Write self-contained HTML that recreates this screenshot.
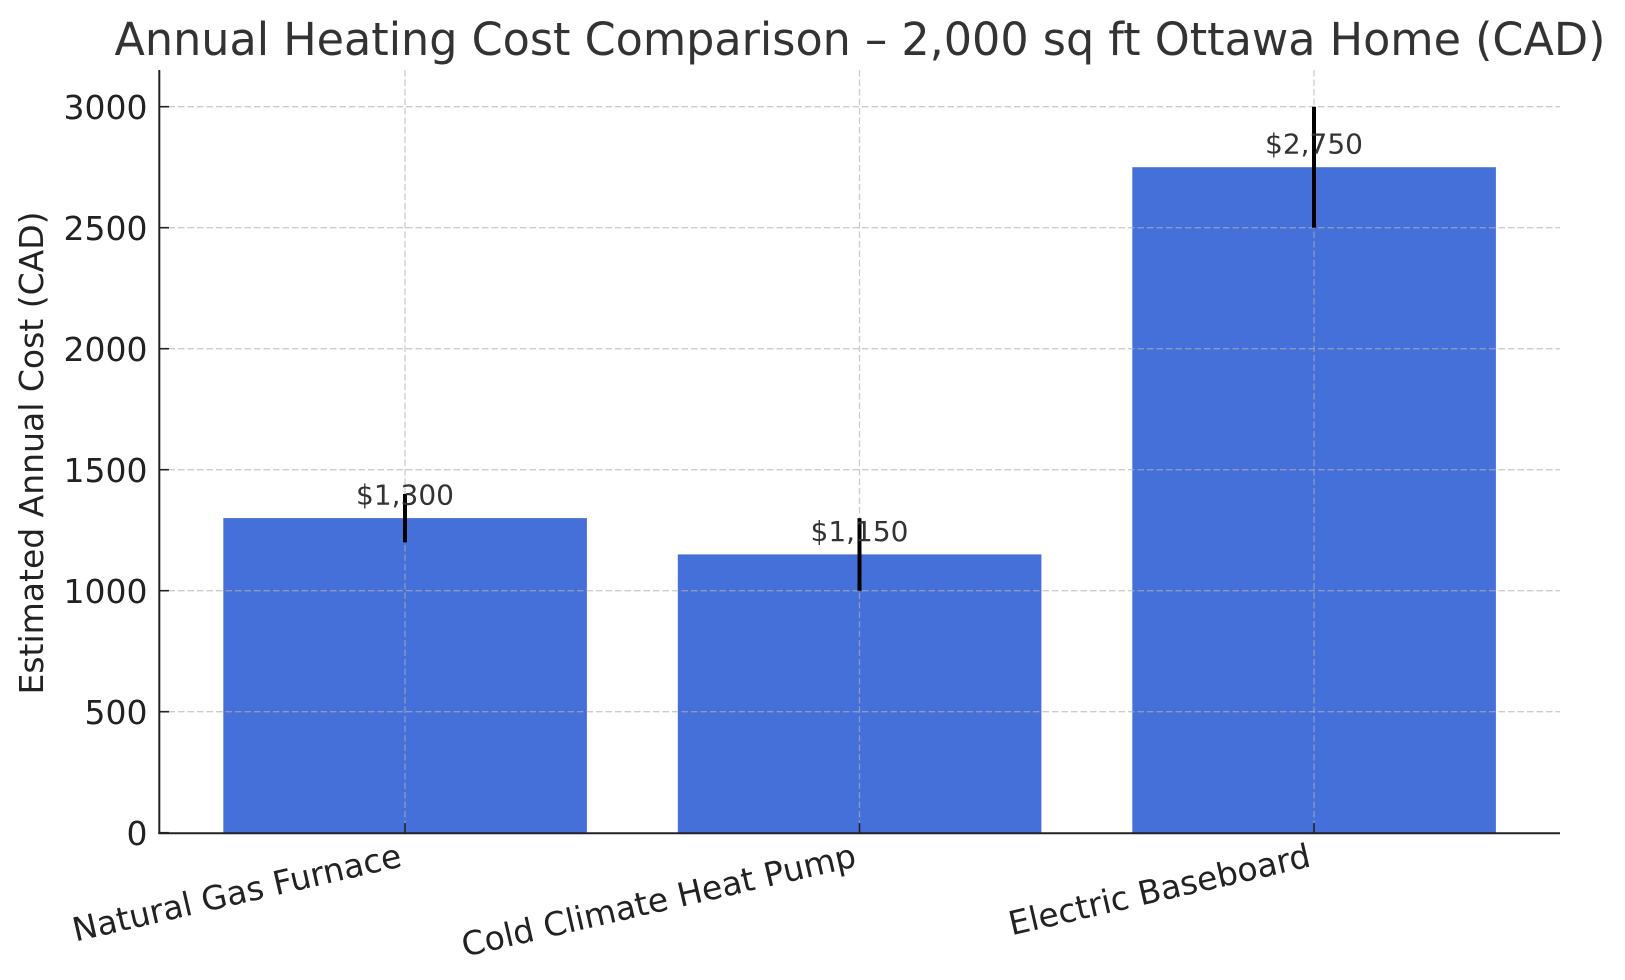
<!DOCTYPE html>
<html><head><meta charset="utf-8"><style>
html,body{margin:0;padding:0;background:#fff;}
svg{display:block;}
text{font-family:"DejaVu Sans","Liberation Sans",sans-serif;}
</style></head><body>
<svg width="1625" height="980" viewBox="0 0 1625 980" xmlns="http://www.w3.org/2000/svg">
<rect width="1625" height="980" fill="#fff"/>
<!-- title -->
<text x="860" y="55" font-size="45.5" fill="#333" text-anchor="middle" textLength="1491" lengthAdjust="spacingAndGlyphs">Annual Heating Cost Comparison – 2,000 sq ft Ottawa Home (CAD)</text>
<!-- bars -->
<g fill="#4670d9">
<rect x="223.3" y="518.1" width="363.6" height="314.6"/>
<rect x="677.8" y="554.4" width="363.6" height="278.3"/>
<rect x="1132.3" y="167.2" width="363.6" height="665.5"/>
</g>
<!-- grid -->
<g stroke="#b0b0b0" stroke-opacity="0.65" stroke-width="1.3" stroke-dasharray="6.5 3" fill="none">
<line x1="159" y1="711.7" x2="1560" y2="711.7"/>
<line x1="159" y1="590.7" x2="1560" y2="590.7"/>
<line x1="159" y1="469.7" x2="1560" y2="469.7"/>
<line x1="159" y1="348.7" x2="1560" y2="348.7"/>
<line x1="159" y1="227.7" x2="1560" y2="227.7"/>
<line x1="159" y1="106.7" x2="1560" y2="106.7"/>
<line x1="405" y1="70" x2="405" y2="832"/>
<line x1="859.5" y1="70" x2="859.5" y2="832"/>
<line x1="1314" y1="70" x2="1314" y2="832"/>
</g>
<!-- error bars -->
<g stroke="#000" stroke-width="4">
<line x1="405" y1="493.9" x2="405" y2="542.3"/>
<line x1="859.5" y1="518.1" x2="859.5" y2="590.7"/>
<line x1="1314" y1="106.7" x2="1314" y2="227.7"/>
</g>
<!-- value labels -->
<g font-size="28" fill="#333" text-anchor="middle">
<text x="405" y="504.5">$1,300</text>
<text x="859.5" y="541">$1,150</text>
<text x="1314" y="153.3">$2,750</text>
</g>
<!-- spines -->
<g stroke="#222" stroke-width="2" fill="none">
<line x1="159.3" y1="70" x2="159.3" y2="833.7"/>
<line x1="158.3" y1="833.3" x2="1560" y2="833.3"/>
</g>
<!-- ticks (inward) -->
<g stroke="#222" stroke-width="1.6">
<line x1="159" y1="832.7" x2="169" y2="832.7"/>
<line x1="159" y1="711.7" x2="169" y2="711.7"/>
<line x1="159" y1="590.7" x2="169" y2="590.7"/>
<line x1="159" y1="469.7" x2="169" y2="469.7"/>
<line x1="159" y1="348.7" x2="169" y2="348.7"/>
<line x1="159" y1="227.7" x2="169" y2="227.7"/>
<line x1="159" y1="106.7" x2="169" y2="106.7"/>
<line x1="405" y1="833" x2="405" y2="823"/>
<line x1="859.5" y1="833" x2="859.5" y2="823"/>
<line x1="1314" y1="833" x2="1314" y2="823"/>
</g>
<!-- y tick labels -->
<g font-size="33" fill="#222" text-anchor="end">
<text x="147.5" y="845.2">0</text>
<text x="147.5" y="724.2">500</text>
<text x="147.5" y="603.2">1000</text>
<text x="147.5" y="482.2">1500</text>
<text x="147.5" y="361.2">2000</text>
<text x="147.5" y="240.2">2500</text>
<text x="147.5" y="119.2">3000</text>
</g>
<!-- y label -->
<text transform="translate(43,453) rotate(-90)" font-size="33" fill="#222" text-anchor="middle">Estimated Annual Cost (CAD)</text>
<!-- x tick labels -->
<g font-size="33" fill="#222" text-anchor="end">
<text x="403.2" y="866" transform="rotate(-13 403.2 866)">Natural Gas Furnace</text>
<text x="857.7" y="866" transform="rotate(-13 857.7 866)">Cold Climate Heat Pump</text>
<text x="1312.2" y="866" transform="rotate(-13 1312.2 866)">Electric Baseboard</text>
</g>
</svg>
</body></html>
